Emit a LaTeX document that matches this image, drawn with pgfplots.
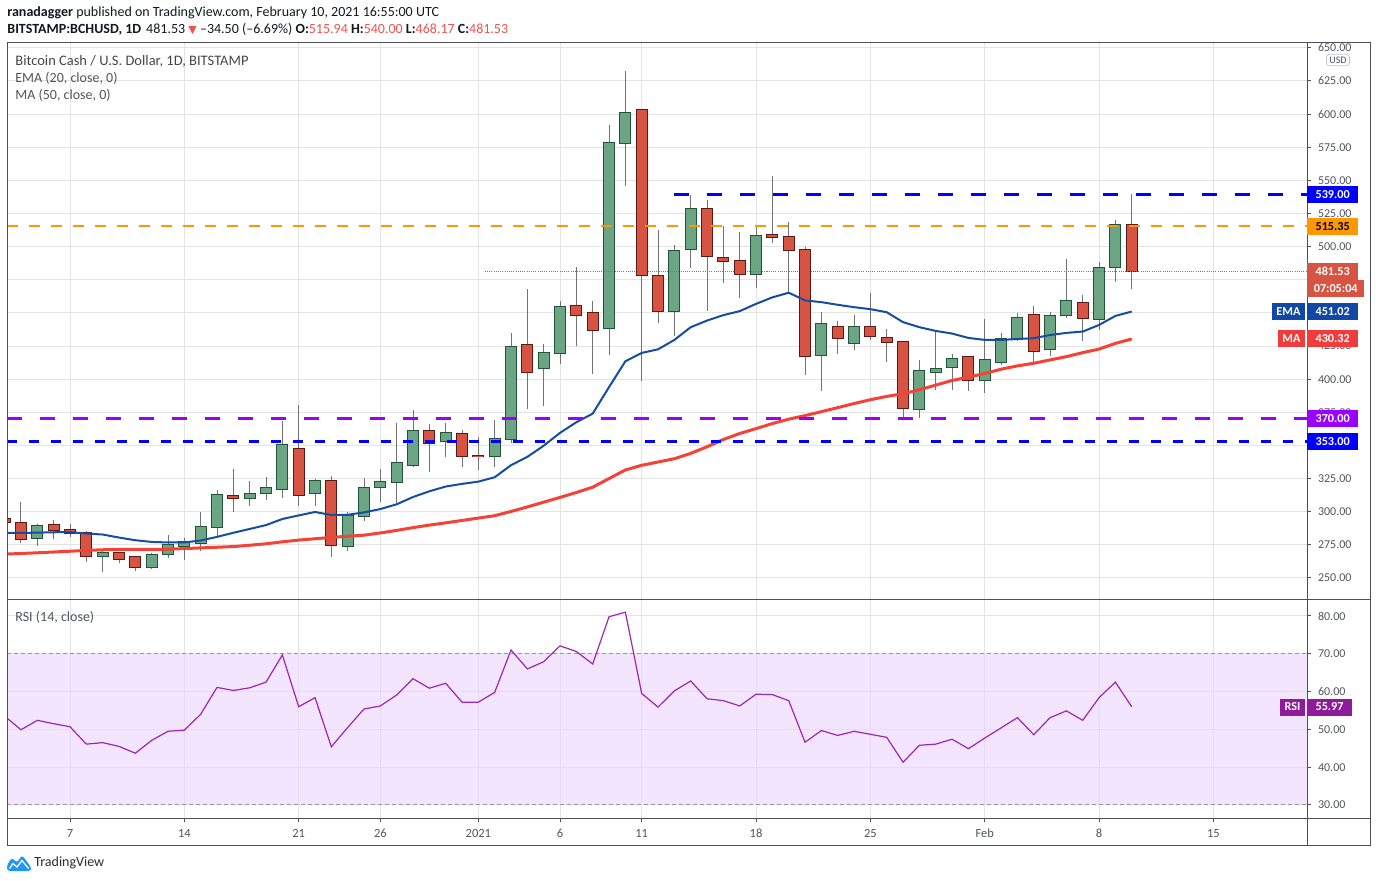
\documentclass[border=0pt]{standalone}
\usepackage{fontspec}
\setmainfont{Carlito}
\newfontfamily\dejavu{DejaVu Sans}
\usepackage{pgfplots}
\usepackage{pgfplotstable}
\pgfplotsset{compat=1.18}

\definecolor{gbody}{RGB}{107,165,131}
\definecolor{gedge}{RGB}{34,84,55}
\definecolor{rbody}{RGB}{215,84,66}
\definecolor{redge}{RGB}{91,26,19}
\definecolor{wick}{RGB}{115,115,117}
\definecolor{emac}{RGB}{21,77,163}
\definecolor{mac}{RGB}{244,67,54}
\definecolor{lvblue}{RGB}{0,0,255}
\definecolor{lvorange}{RGB}{255,152,0}
\definecolor{lvpurple}{RGB}{153,0,255}
\definecolor{rsiline}{RGB}{156,39,176}
\definecolor{rsiband}{RGB}{235,212,252}
\definecolor{rsidash}{RGB}{150,150,158}
\definecolor{gridc}{RGB}{228,228,228}
\definecolor{framec}{RGB}{80,80,80}
\definecolor{txt}{RGB}{19,23,34}
\definecolor{lbl}{RGB}{80,84,94}
\definecolor{hdrred}{RGB}{239,83,80}
\definecolor{lastred}{RGB}{215,84,66}
\definecolor{emabox}{RGB}{16,72,165}
\definecolor{mabox}{RGB}{242,60,60}
\definecolor{rsibox}{RGB}{142,27,153}
\definecolor{tvblue}{RGB}{33,150,243}

% day numbers: Dec d = d, Jan d = 31+d, Feb d = 62+d
\pgfplotstableread{
d o h l c
5 280.3 290.4 274.0 289.4
9 266.7 270.7 254.3 268.9
12 258.3 269.2 257.0 267.4
13 268.2 282.1 265.0 275.0
14 274.3 279.8 263.9 276.8
15 276.5 299.5 270.2 288.6
16 288.6 316.2 281.6 312.9
18 310.6 323.0 304.3 313.6
19 314.4 326.0 308.8 318.2
20 317.4 368.7 310.4 350.0
22 314.4 324.5 304.3 323.5
24 274.3 299.5 270.2 297.0
25 297.0 325.3 292.9 318.2
26 319.0 332.1 307.3 322.7
27 322.7 366.9 306.6 337.1
28 335.6 376.8 333.4 360.6
30 353.0 366.9 341.4 359.1
33 342.4 369.2 333.9 354.6
34 354.6 435.1 352.0 424.2
36 408.7 426.5 380.1 420.1
37 420.1 458.6 411.5 454.1
40 438.7 591.9 418.0 578.0
41 578.0 632.1 546.0 600.8
44 451.5 501.0 432.8 497.0
45 498.5 538.9 483.9 528.0
49 479.6 514.9 468.7 508.3
53 418.2 451.0 390.7 441.7
55 427.3 448.7 421.7 439.4
59 377.3 414.4 370.5 406.1
60 405.3 435.6 391.7 407.6
61 409.1 419.0 391.7 415.2
63 399.3 445.5 389.4 414.4
64 412.9 434.9 411.0 430.3
65 430.3 450.0 428.8 446.2
67 422.7 450.8 417.4 447.7
68 448.5 490.9 446.2 459.1
70 445.5 488.6 437.1 484.1
71 484.9 519.7 473.5 515.94
}\greentab

\pgfplotstableread{
d o h l c
3 294.7 297.0 289.0 292.4
4 291.7 307.1 276.3 279.6
6 290.2 293.4 279.3 286.4
7 286.4 290.9 280.8 284.1
8 284.1 285.1 261.9 266.7
10 268.9 268.9 261.1 264.4
11 265.9 265.9 255.6 258.3
17 312.1 332.1 299.8 310.6
21 347.0 380.6 304.3 312.9
23 323.5 326.8 265.8 275.0
29 360.6 366.2 330.0 351.5
31 358.3 361.6 333.9 342.4
32 342.4 356.3 331.6 342.2
35 425.4 467.7 377.3 405.7
38 455.3 484.4 424.8 448.5
39 450.0 458.6 403.6 437.1
42 603.0 603.5 398.3 478.8
43 478.0 512.4 442.2 451.5
46 528.0 535.1 451.3 493.2
47 491.7 515.4 472.5 489.4
48 489.4 511.1 461.1 479.6
50 509.1 553.3 502.8 507.6
51 507.6 518.4 464.9 497.7
52 497.7 500.0 402.8 417.4
54 439.4 444.2 418.7 431.1
56 439.4 464.7 429.3 432.6
57 431.1 437.9 412.6 428.1
58 428.1 428.1 369.7 378.0
62 416.7 416.7 390.9 399.3
66 448.5 455.3 412.1 421.2
69 457.6 463.6 428.8 446.2
72 515.94 540.00 468.17 481.53
}\redtab

\pgfplotstableread{
d v
3 284.1
4 284.0
5 284.2
6 284.5
7 284.6
8 283.5
9 282.8
10 280.5
11 278.5
12 277.2
13 276.8
14 276.8
15 278.3
16 281.0
17 284.1
18 287.0
19 289.9
20 294.5
21 297.2
22 299.8
23 297.5
24 297.7
25 299.5
26 302.0
27 305.6
28 311.1
29 315.4
30 319.0
31 321.0
32 322.7
33 326.0
34 335.1
35 341.4
36 349.8
37 359.5
38 367.5
39 374.0
40 394.0
41 413.5
42 419.8
43 422.5
44 429.6
45 439.2
46 444.2
47 448.3
48 451.3
49 456.8
50 461.7
51 465.2
52 459.4
53 458.1
54 456.1
55 454.3
56 452.8
57 450.5
58 443.0
59 439.2
60 436.4
61 434.4
62 431.1
63 429.6
64 429.6
65 430.3
66 430.9
67 433.3
68 434.9
69 435.9
70 440.9
71 447.7
72 451.02
}\ematab

\pgfplotstableread{
d v
3 268.0
4 268.5
5 269.0
6 269.6
7 270.2
8 270.8
9 271.3
10 271.5
11 271.5
12 271.6
13 271.7
14 272.2
15 272.7
16 273.2
17 273.7
18 274.7
19 275.8
20 277.3
21 278.6
22 279.6
23 280.6
24 281.5
25 282.3
26 284.0
27 285.9
28 288.0
29 289.9
30 291.6
31 293.4
32 295.2
33 297.0
34 300.2
35 303.6
36 307.2
37 310.8
38 314.5
39 318.5
40 325.0
41 331.5
42 335.0
43 337.5
44 340.0
45 344.0
46 349.0
47 354.5
48 359.0
49 362.7
50 366.5
51 369.8
52 372.5
53 375.5
54 378.5
55 381.6
56 384.5
57 387.0
58 389.0
59 392.0
60 395.5
61 399.0
62 401.5
63 404.3
64 407.5
65 410.0
66 412.0
67 414.5
68 417.0
69 420.0
70 422.7
71 427.0
72 430.32
}\matab

\pgfplotstableread{
d v
3 53.5
4 49.9
5 52.4
6 51.5
7 50.7
8 46.1
9 46.5
10 45.5
11 43.7
12 47.1
13 49.5
14 49.8
15 54.0
16 61.1
17 60.3
18 61.0
19 62.5
20 69.7
21 56.0
22 58.4
23 45.4
24 50.5
25 55.4
26 56.2
27 59.1
28 63.4
29 60.9
30 62.2
31 57.2
32 57.2
33 59.8
34 71.0
35 66.0
36 67.9
37 72.1
38 70.6
39 67.3
40 79.8
41 81.0
42 59.5
43 55.9
44 60.2
45 62.8
46 58.1
47 57.6
48 56.2
49 59.3
50 59.2
51 57.6
52 46.6
53 49.7
54 48.4
55 49.5
56 48.7
57 47.9
58 41.3
59 45.8
60 46.1
61 47.4
62 44.9
63 47.7
64 50.4
65 53.1
66 48.6
67 53.1
68 54.9
69 52.4
70 58.4
71 62.5
72 55.97
}\rsitab

\pgfplotsset{
  tvaxis/.style={
    scale only axis, width=650pt,
    xmin=3.143, xmax=82.73,
    axis line style={draw=framec, line width=0.5pt},
    xtick={7,14,21,26,32,37,42,49,56,63,70,77},
    ytick pos=right, yticklabel pos=right,
    tick align=outside, major tick length=2pt,
    tick style={draw=framec, line width=0.5pt},
    grid=major, grid style={draw=gridc, line width=0.5pt},
    /pgf/number format/assume math mode=true,
    yticklabel style={font=\fontsize{6}{7}\selectfont, text=lbl,
      /pgf/number format/.cd, fixed, fixed zerofill, precision=2},
  },
  wickst/.style={draw=none, error bars/.cd, y dir=plus, y explicit, error mark=none,
    error bar style={draw=wick, line width=0.5pt}},
  edgest/.style={draw=none, error bars/.cd, y dir=plus, y explicit, error mark=none,
    error bar style={draw=#1, line width=6pt}},
  bodyst/.style={draw=none, error bars/.cd, y dir=plus, y explicit, error mark=none,
    error bar style={draw=#1, line width=5pt}},
}

\begin{document}
\begin{tikzpicture}
\path[use as bounding box] (0pt,0pt) rectangle (688pt,-440.5pt);

% ---------------- main price pane ----------------
\begin{axis}[tvaxis,
  at={(3.5pt,-300pt)}, anchor=south west, height=278.5pt,
  ymin=233.4, ymax=653.6,
  xticklabels={}, xtick style={draw=none},
  ytick={250,275,...,650},
  yticklabels={250.00,275.00,300.00,325.00,{},375.00,400.00,425.00,{},{},500.00,525.00,550.00,575.00,600.00,625.00,650.00},
]
  % wicks
  \addplot[wickst] table[x=d, y=l, y error plus expr={\thisrow{h}-\thisrow{l}}] {\greentab};
  \addplot[wickst] table[x=d, y=l, y error plus expr={\thisrow{h}-\thisrow{l}}] {\redtab};
  % body outlines
  \addplot[edgest=gedge] table[x=d, y expr={min(\thisrow{o},\thisrow{c})-0.75}, y error plus expr={abs(\thisrow{c}-\thisrow{o})+1.5}] {\greentab};
  \addplot[edgest=redge] table[x=d, y expr={min(\thisrow{o},\thisrow{c})-0.75}, y error plus expr={abs(\thisrow{c}-\thisrow{o})+1.5}] {\redtab};
  % body fills
  \addplot[bodyst=gbody] table[x=d, y expr={min(\thisrow{o},\thisrow{c})}, y error plus expr={abs(\thisrow{c}-\thisrow{o})}] {\greentab};
  \addplot[bodyst=rbody] table[x=d, y expr={min(\thisrow{o},\thisrow{c})}, y error plus expr={abs(\thisrow{c}-\thisrow{o})}] {\redtab};
  % moving averages
  \addplot[emac, line width=1pt] table[x=d, y=v] {\ematab};
  \addplot[mac, line width=1.5pt] table[x=d, y=v] {\matab};
  % last price dotted line
  \addplot[lastred, line width=0.5pt, dash pattern=on 0.5pt off 0.6pt] coordinates {(32.4,481.53) (82.73,481.53)};
  % horizontal levels
  \addplot[lvorange, line width=1.1pt, dash pattern=on 5.4pt off 5.6pt] coordinates {(3.143,515.35) (82.73,515.35)};
  \addplot[lvblue, line width=1.5pt, dash pattern=on 7.5pt off 9pt] coordinates {(44.0,539) (82.73,539)};
  \addplot[lvpurple, line width=1.5pt, dash pattern=on 7.5pt off 9pt] coordinates {(3.143,370) (82.73,370)};
  \addplot[lvblue, line width=1.2pt, dash pattern=on 4.8pt off 6.2pt] coordinates {(3.143,353) (82.73,353)};
\end{axis}

% ---------------- RSI pane ----------------
\begin{axis}[tvaxis,
  at={(3.5pt,-409pt)}, anchor=south west, height=109pt,
  ymin=26.56, ymax=84.23,
  xtick pos=bottom,
  xticklabels={7,14,21,26,2021,6,11,18,25,Feb,8,15},
  xticklabel style={font=\fontsize{6.25}{7}\selectfont, text=lbl},
  ytick={30,40,...,80},
]
  \addplot[draw=none, fill=rsiband, fill opacity=0.6] coordinates {(3.143,30) (82.73,30) (82.73,70) (3.143,70)} -- cycle;
  \addplot[rsidash, line width=0.5pt, dash pattern=on 2pt off 1.5pt] coordinates {(3.143,70) (82.73,70)};
  \addplot[rsidash, line width=0.5pt, dash pattern=on 2pt off 1.5pt] coordinates {(3.143,30) (82.73,30)};
  \addplot[rsiline, line width=0.6pt] table[x=d, y=v] {\rsitab};
\end{axis}

% ---------------- frame, labels, texts (pixel coordinates) ----------------
\begin{scope}[x=0.5pt, y=-0.5pt]
  \draw[framec, line width=0.5pt] (7,43) rectangle (1370,845);
  \draw[framec, line width=0.5pt] (1307,43) -- (1307,845);
  \draw[framec, line width=0.5pt] (7,600) -- (1370,600);
  \draw[framec, line width=0.5pt] (7,818) -- (1370,818);

  \tikzset{pbox/.style={anchor=west, text=white, font=\fontsize{6.1}{7}\selectfont\bfseries,
      inner xsep=4.1pt, inner ysep=0pt, minimum height=8.5pt},
    nbox/.style={anchor=east, text=white, font=\fontsize{6.1}{7}\selectfont\bfseries,
      inner xsep=2.1pt, inner ysep=0pt, minimum height=8.5pt}}
  \node[pbox, fill=lvblue] at (1307,195) {539.00};
  \node[pbox, fill=lvorange, text=black] at (1307,226.2) {515.35};
  \node[pbox, fill=lastred] at (1307,271.1) {481.53};
  \node[pbox, fill=lastred, inner xsep=3.2pt] at (1307,289) {07:05:04};
  \node[nbox, fill=emabox] at (1305,311.5) {EMA};
  \node[pbox, fill=emabox] at (1307,311.5) {451.02};
  \node[nbox, fill=mabox] at (1305,339) {MA};
  \node[pbox, fill=mabox] at (1307,339) {430.32};
  \node[pbox, fill=lvpurple] at (1307,419) {370.00};
  \node[pbox, fill=lvblue] at (1307,441.5) {353.00};
  \node[nbox, fill=rsibox] at (1305,707) {RSI};
  \node[pbox, fill=rsibox] at (1307,707) {55.97};
  \node[draw=gray!45, fill=white, rounded corners=1.5pt, text=lbl, font=\fontsize{5}{6}\selectfont, inner xsep=1.5pt, inner ysep=1.2pt] at (1338,60) {USD};

  % header
  \node[anchor=base west, inner sep=0pt, text=txt, font=\fontsize{7}{8}\selectfont] at (7,16.5)
    {\textbf{ranadagger} published on TradingView.com, February 10, 2021 16:55:00 UTC};
  \node[anchor=base west, inner sep=0pt, text=txt, font=\fontsize{7}{8}\selectfont] at (7,33.5)
    {\textbf{BITSTAMP:BCHUSD, 1D}\hspace{2.5pt}481.53 {\color{hdrred}\dejavu\fontsize{5.5}{6}\selectfont ▼} –34.50 (–6.69\%) \textbf{O:}{\color{hdrred}515.94} \textbf{H:}{\color{hdrred}540.00} \textbf{L:}{\color{hdrred}468.17} \textbf{C:}{\color{hdrred}481.53}};

  % legends
  \node[anchor=base west, inner sep=0pt, text={rgb,255:red,70;green,70;blue,70}, font=\fontsize{7.25}{8}\selectfont] at (15,65.5)
    {Bitcoin Cash / U.S. Dollar, 1D, BITSTAMP};
  \node[anchor=base west, inner sep=0pt, text=lbl, font=\fontsize{7}{8}\selectfont] at (15,82.5) {EMA (20, close, 0)};
  \node[anchor=base west, inner sep=0pt, text=lbl, font=\fontsize{7}{8}\selectfont] at (15,99.5) {MA (50, close, 0)};
  \node[anchor=base west, inner sep=0pt, text=lbl, font=\fontsize{7}{8}\selectfont] at (15,621.5) {RSI (14, close)};

  % logo
  \fill[tvblue, rounded corners=1.5pt] (7,871) -- (7,865) -- (12,857.5) -- (17,863) -- (22,855) -- (31,867) -- (31,871) -- cycle;
  \draw[white, line width=0.6pt] (9.5,868.5) -- (13,863.5) -- (17,867) -- (22,860.5) -- (28.5,868.5);
  \node[anchor=west, inner sep=0pt, text={rgb,255:red,40;green,44;blue,52}, font=\fontsize{7}{8}\selectfont] at (34,862.5) {TradingView};
\end{scope}
\end{tikzpicture}
\end{document}
